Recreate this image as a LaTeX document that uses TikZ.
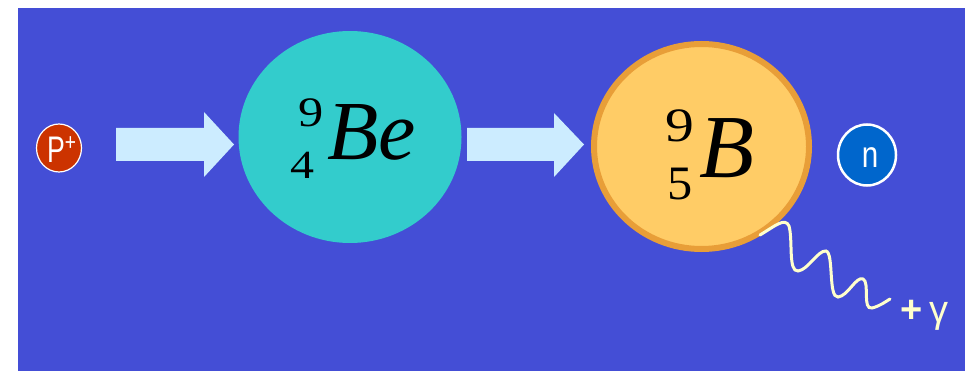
\documentclass[tikz,border=0pt]{standalone}
\usepackage{fontspec}
\setmainfont{Liberation Serif}
\newfontfamily\sansf{Liberation Sans}
\usetikzlibrary{shapes.geometric}
\definecolor{bgblue}{RGB}{68,78,214}
\definecolor{arrowc}{RGB}{204,236,255}
\definecolor{bec}{RGB}{51,204,204}
\definecolor{bfill}{RGB}{255,204,102}
\definecolor{bborder}{RGB}{232,158,56}
\definecolor{pc}{RGB}{204,51,0}
\definecolor{nc}{RGB}{0,102,204}
\definecolor{wavec}{RGB}{255,255,204}
\tikzset{
  blob/.style={ellipse, inner sep=0pt},
  txt/.style={inner sep=0pt, anchor=base west},
  fatarrow/.style={fill=arrowc},
  wave/.style={draw=wavec, line width=3pt, line cap=round}
}
\begin{document}
\begin{tikzpicture}[x=1pt,y=-1pt]
\useasboundingbox (0,0) rectangle (965,371);
\fill[bgblue] (18,8) rectangle (965,371);
% particles
\node[blob, fill=pc, draw=white, line width=1.2pt, minimum width=45pt, minimum height=48pt] (p) at (59,148) {};
\node[txt, text=white] (ptxt) at (47,163) {\sansf\fontsize{37}{37}\selectfont\scalebox{0.72}[1]{P}\raisebox{12pt}{\fontsize{24}{24}\selectfont\scalebox{0.8}[1]{+}}};
\node[blob, fill=bec, minimum width=223pt, minimum height=212pt] (be) at (350,137) {};
\node[blob, fill=bfill, draw=bborder, line width=6pt, minimum width=215pt, minimum height=205pt] (b) at (701.5,146.5) {};
\node[blob, fill=nc, draw=white, line width=2.5pt, minimum width=58pt, minimum height=61pt] (n) at (867,155) {};
\node[text=white, inner sep=0pt] (ntxt) at (870,158) {\sansf\fontsize{37}{37}\selectfont\scalebox{0.8}[1]{n}};
% arrows
\fill[fatarrow] (116,128) -- (204,128) -- (204,112) -- (234,144.5) -- (204,177) -- (204,161) -- (116,161) -- cycle;
\fill[fatarrow] (467,128) -- (554,128) -- (554,113) -- (584,144.5) -- (554,177) -- (554,161) -- (467,161) -- cycle;
% Be labels
\node[txt] (be9) at (298,127) {\fontsize{42}{42}\selectfont\scalebox{1.2}[1]{9}};
\node[txt] (be4) at (290,179) {\fontsize{40}{40}\selectfont\scalebox{1.2}[1]{4}};
\node[txt] (betxt) at (327,160) {\fontsize{84}{84}\selectfont\itshape Be};
% B labels
\node[txt] (b9) at (665,142) {\fontsize{48}{48}\selectfont\scalebox{1.2}[1]{9}};
\node[txt] (b5) at (667,200) {\fontsize{48}{48}\selectfont\scalebox{1.05}[1]{5}};
\node[txt] (btxt) at (699,178) {\fontsize{90}{90}\selectfont\itshape B};
% gamma
\coordinate (w0) at (760,235);
\node[txt, text=wavec] (gamma) at (900,322) {\sansf\fontsize{38}{38}\selectfont\textbf{+}\hspace{7pt}γ};
\draw[wave] (w0) .. controls (775,226) and (785,217) .. (789,226)
  .. controls (793,240) and (788,272) .. (798,271)
  .. controls (808,270) and (818,250) .. (826,251)
  .. controls (834,253) and (828,298) .. (838,297)
  .. controls (848,296) and (856,276) .. (863,279)
  .. controls (870,282) and (862,310) .. (872,308)
  .. controls (880,306) and (885,302) .. (890,299);
\end{tikzpicture}
\end{document}
